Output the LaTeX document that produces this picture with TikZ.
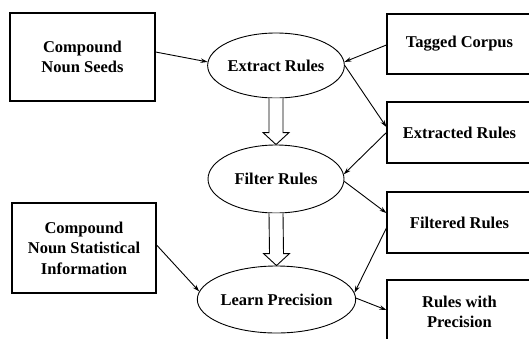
\documentclass[tikz,border=0pt]{standalone}
\usepackage{fontspec}
\setmainfont{Liberation Serif}
\usetikzlibrary{shapes.geometric,arrows.meta,calc}
\begin{document}
\begin{tikzpicture}[x=1pt,y=-1pt,
  every node/.style={font=\fontsize{16.5}{20.5}\selectfont\bfseries, align=center, inner sep=0pt},
  databox/.style={draw, line width=1.2pt, rectangle, minimum width=145pt},
  process/.style={draw, line width=0.9pt, ellipse, minimum width=136pt, minimum height=66pt},
  flow/.style={line width=0.9pt, -{Stealth[length=7pt,width=4.5pt]}},
  hollow/.style={draw, line width=0.9pt, fill=white, line join=miter}]
\useasboundingbox (0,0) rectangle (529,338);

% inputs and outputs
\node[databox, minimum height=88pt] (cns) at (82.5,57) {Compound\\Noun Seeds};
\node[databox, minimum height=90pt, minimum width=144pt] (cnsi) at (84,248) {Compound\\Noun Statistical\\Information};
\node[databox, minimum height=60pt] (tc) at (459.5,44) {Tagged Corpus};
\node[databox, minimum height=61pt] (er) at (459.5,132.5) {Extracted Rules};
\node[databox, minimum height=61pt] (fr) at (459.5,222.5) {Filtered Rules};
\node[databox, minimum height=64pt] (rp) at (459.5,312) {Rules with\\Precision};

% processing steps
\node[process, minimum height=65pt] (ext) at (276,65.5) {Extract Rules};
\node[process, minimum height=68pt] (fil) at (276,179) {Filter Rules};
\node[process, minimum height=67pt, minimum width=135pt] (lp) at (276.5,299.5) {Learn Precision};

% hollow block arrows between the steps
\foreach \a/\b in {ext/fil, fil/lp} {
  \path[hollow] ($(\a.south)+(-7,0)$) -- ($(\b.north)+(-7,-12)$) -- ($(\b.north)+(-13,-12)$)
     -- (\b.north) -- ($(\b.north)+(13,-12)$) -- ($(\b.north)+(7,-12)$) -- ($(\a.south)+(7,0)$);
}

% data flow
\draw[flow] ([yshift=5pt]cns.east) -- (ext.177);
\draw[flow] ([yshift=-1pt]tc.west) -- (ext.3);
\draw[flow] (ext.east) -- ([yshift=5.5pt]er.west);
\draw[flow] ([yshift=0pt]er.west) -- (fil.4);
\draw[flow] (fil.-2) -- ([yshift=9.5pt]fr.west);
\draw[flow] ([yshift=-5.5pt]fr.west) -- (lp.5.6);
\draw[flow] (lp.1) -- ([yshift=2pt]rp.west);
\draw[flow] ([yshift=3pt]cnsi.east) -- (lp.174.5);
\end{tikzpicture}
\end{document}
